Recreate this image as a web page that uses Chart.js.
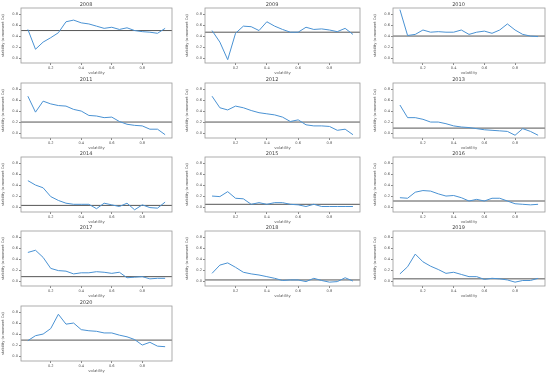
<!DOCTYPE html>
<html>
<head>
<meta charset="utf-8">
<script src="https://cdn.jsdelivr.net/npm/chart.js@4.4.1/dist/chart.umd.min.js"></script>
<style>
  body { margin: 0; background: #fff; }
  #wrap { position: relative; width: 550px; height: 373px; overflow: hidden; }
  .cell { position: absolute; }
</style>
</head>
<body>
<div id="wrap"></div>
<script>
// volatility grid, one series per year
const years = ["2008", "2009", "2010", "2011", "2012", "2013", "2014", "2015", "2016", "2017", "2018", "2019", "2020"];
const vol = [0.05, 0.10, 0.15, 0.20, 0.25, 0.30, 0.35, 0.40, 0.45, 0.50, 0.55, 0.60, 0.65, 0.70, 0.75, 0.80, 0.85, 0.90, 0.95];
const xTicks = [0.2, 0.4, 0.6, 0.8];
const yTicks = [0.0, 0.2, 0.4, 0.6, 0.8];

const s2008 = [0.52, 0.16, 0.29, 0.37, 0.46, 0.66, 0.69, 0.64, 0.62, 0.58, 0.54, 0.56, 0.52, 0.55, 0.50, 0.48, 0.47, 0.45, 0.54];
const s2009 = [0.50, 0.29, -0.03, 0.45, 0.58, 0.57, 0.50, 0.66, 0.58, 0.52, 0.47, 0.47, 0.56, 0.52, 0.53, 0.51, 0.48, 0.54, 0.43];
const s2010 = [0.88, 0.41, 0.43, 0.51, 0.47, 0.48, 0.47, 0.47, 0.51, 0.43, 0.47, 0.49, 0.45, 0.51, 0.62, 0.51, 0.43, 0.40, 0.39];
const s2011 = [0.67, 0.38, 0.58, 0.53, 0.50, 0.49, 0.43, 0.40, 0.32, 0.31, 0.28, 0.29, 0.21, 0.16, 0.14, 0.13, 0.07, 0.07, -0.03];
const s2012 = [0.67, 0.46, 0.42, 0.49, 0.46, 0.41, 0.37, 0.35, 0.33, 0.29, 0.21, 0.24, 0.15, 0.13, 0.13, 0.12, 0.05, 0.07, -0.03];
const s2013 = [0.51, 0.28, 0.28, 0.25, 0.20, 0.20, 0.17, 0.13, 0.11, 0.10, 0.08, 0.06, 0.05, 0.04, 0.03, -0.04, 0.08, 0.03, -0.04];
const s2014 = [0.48, 0.40, 0.35, 0.19, 0.12, 0.07, 0.05, 0.05, 0.05, -0.03, 0.07, 0.04, 0.01, 0.07, -0.05, 0.04, -0.01, -0.02, 0.09];
const s2015 = [0.20, 0.19, 0.28, 0.16, 0.15, 0.05, 0.08, 0.05, 0.08, 0.08, 0.05, 0.04, 0.01, 0.05, 0.01, 0.01, 0.01, 0.01, 0.01];
const s2016 = [0.17, 0.16, 0.27, 0.30, 0.29, 0.24, 0.20, 0.21, 0.17, 0.11, 0.14, 0.11, 0.16, 0.16, 0.11, 0.06, 0.05, 0.04, 0.05];
const s2017 = [0.52, 0.56, 0.43, 0.23, 0.19, 0.18, 0.13, 0.15, 0.15, 0.17, 0.16, 0.14, 0.16, 0.06, 0.07, 0.08, 0.04, 0.05, 0.05];
const s2018 = [0.14, 0.29, 0.33, 0.25, 0.16, 0.13, 0.11, 0.08, 0.05, 0.01, 0.02, 0.02, -0.01, 0.05, 0.01, -0.02, -0.01, 0.06, 0.00];
const s2019 = [0.13, 0.26, 0.49, 0.35, 0.27, 0.21, 0.14, 0.16, 0.12, 0.08, 0.08, 0.03, 0.05, 0.04, 0.02, -0.02, 0.01, 0.01, 0.05];
const s2020 = [0.28, 0.37, 0.40, 0.50, 0.76, 0.58, 0.60, 0.48, 0.46, 0.45, 0.42, 0.42, 0.38, 0.35, 0.30, 0.20, 0.25, 0.18, 0.17];

// horizontal reference level per year
const levels = [0.50, 0.47, 0.40, 0.20, 0.20, 0.09, 0.03, 0.05, 0.11, 0.08, 0.02, 0.04, 0.29];
const allSeries = [s2008, s2009, s2010, s2011, s2012, s2013, s2014, s2015, s2016, s2017, s2018, s2019, s2020];

const xMin = 0.005, xMax = 0.995;
const yMin = -0.09, yMax = 0.91;

// plot area placement (matches the matplotlib subplot grid)
const colLeft = [21, 205, 393];
const colWidth = [151, 155, 152];
const rowTop = [8, 83, 157, 231, 306];
const plotH = 55;
const yAxisW = 21, xAxisH = 12, titleH = 8;

// full box around the axes like matplotlib spines
const boxPlugin = {
  id: 'box',
  afterDatasetsDraw(chart) {
    const a = chart.chartArea;
    const ctx = chart.ctx;
    ctx.save();
    ctx.strokeStyle = '#999';
    ctx.lineWidth = 0.8;
    ctx.strokeRect(a.left, a.top, a.right - a.left, a.bottom - a.top);
    ctx.restore();
  }
};

const wrap = document.getElementById('wrap');

years.forEach((yr, i) => {
  const col = i % 3, row = Math.floor(i / 3);
  const w = yAxisW + colWidth[col] + 3;
  const h = titleH + plotH + xAxisH;

  const div = document.createElement('div');
  div.className = 'cell';
  div.style.left = (colLeft[col] - yAxisW) + 'px';
  div.style.top = (rowTop[row] - titleH) + 'px';
  div.style.width = w + 'px';
  div.style.height = h + 'px';
  const cv = document.createElement('canvas');
  cv.width = w;
  cv.height = h;
  div.appendChild(cv);
  wrap.appendChild(div);

  const vals = allSeries[i];
  new Chart(cv, {
    type: 'line',
    data: {
      datasets: [
        {
          data: vol.map((x, k) => ({ x: x, y: vals[k] })),
          borderColor: '#4a92d3',
          borderWidth: 1,
          pointRadius: 0,
          tension: 0
        },
        {
          data: [{ x: xMin, y: levels[i] }, { x: xMax, y: levels[i] }],
          borderColor: '#555',
          borderWidth: 1,
          pointRadius: 0
        }
      ]
    },
    options: {
      responsive: false,
      animation: false,
      devicePixelRatio: 1,
      layout: { padding: { left: 0, right: 3, top: 0, bottom: 0 } },
      plugins: {
        legend: { display: false },
        tooltip: { enabled: false },
        title: {
          display: true,
          text: yr,
          color: '#444',
          font: { family: 'DejaVu Sans', size: 5, weight: 'normal', lineHeight: 1 },
          padding: { top: 2, bottom: 1 }
        }
      },
      scales: {
        x: {
          type: 'linear',
          min: xMin,
          max: xMax,
          afterBuildTicks: s => { s.ticks = xTicks.map(v => ({ value: v })); },
          afterFit: s => { s.height = xAxisH; },
          grid: { drawOnChartArea: false, drawTicks: true, tickLength: 2, color: '#888' },
          border: { display: false },
          ticks: {
            color: '#555',
            font: { family: 'DejaVu Sans', size: 3.6 },
            padding: 0.5,
            maxRotation: 0,
            callback: v => v.toFixed(1)
          },
          title: {
            display: true,
            text: 'volatility',
            color: '#555',
            font: { family: 'DejaVu Sans', size: 3.8 },
            padding: 0
          }
        },
        y: {
          min: yMin,
          max: yMax,
          afterBuildTicks: s => { s.ticks = yTicks.map(v => ({ value: v })); },
          afterFit: s => { s.width = yAxisW; },
          grid: { drawOnChartArea: false, drawTicks: true, tickLength: 2, color: '#888' },
          border: { display: false },
          ticks: {
            color: '#555',
            font: { family: 'DejaVu Sans', size: 3.6 },
            padding: 1,
            callback: v => v.toFixed(1)
          },
          title: {
            display: true,
            text: 'stability (α-moment Cα)',
            color: '#555',
            font: { family: 'DejaVu Sans', size: 3.6 },
            padding: 0.5
          }
        }
      }
    },
    plugins: [boxPlugin]
  });
});
</script>
</body>
</html>
